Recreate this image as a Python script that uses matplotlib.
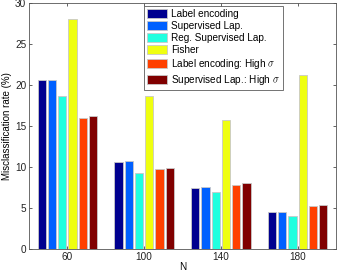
import numpy as np
import matplotlib
matplotlib.use('Agg')
import matplotlib.pyplot as plt

plt.rcParams['font.family'] = ['Liberation Sans', 'DejaVu Sans']
plt.rcParams['mathtext.fontset'] = 'cm'

groups = ["60", "100", "140", "180"]
series = ["Label encoding", "Supervised Lap.", "Reg. Supervised Lap.", "Fisher",
          r"Label encoding: High $\sigma$", r"Supervised Lap.: High $\sigma$"]
label_enc = [20.6, 10.6, 7.5, 4.5]
sup_lap = [20.6, 10.7, 7.6, 4.5]
reg_sup_lap = [18.7, 9.3, 7.0, 4.0]
fisher = [28.0, 18.6, 15.7, 21.2]
label_enc_high = [16.0, 9.8, 7.8, 5.2]
sup_lap_high = [16.2, 9.9, 8.0, 5.4]
values = [label_enc, sup_lap, reg_sup_lap, fisher, label_enc_high, sup_lap_high]
colors = ["#00008F", "#0060FF", "#20FFDF", "#EFFF10", "#FF4000", "#800000"]

fig = plt.figure(figsize=(3.43, 2.73), dpi=100)
ax = fig.add_axes([29 / 343, 24 / 273, 307 / 343, 246 / 273])

x = np.arange(1, len(groups) + 1)
slot = 0.8 / len(series)
for i, (vals, c, lab) in enumerate(zip(values, colors, series)):
    ax.bar(x + (i - 2.5) * slot, vals, width=slot * 0.82, color=c,
           edgecolor="#C8C8C8", linewidth=0.6, label=lab)

ax.set_xlim(0.5, 4.5)
ax.set_ylim(0, 30)
ax.set_xticks(x)
ax.set_xticklabels(groups)
ax.set_yticks(range(0, 31, 5))
ax.tick_params(direction="in", top=True, right=True, labelsize=7.2, length=2.5,
               width=0.5, pad=2, colors="#222222")
for s in ax.spines.values():
    s.set_linewidth(0.6)
    s.set_color("#555555")
ax.set_xlabel("N", fontsize=7.2, labelpad=0)
ax.set_ylabel("Misclassification rate (%)", fontsize=7, labelpad=2)

leg = ax.legend(loc="upper left", bbox_to_anchor=(0.376, 0.988), fontsize=7.2,
                frameon=True, fancybox=False, edgecolor="#333333",
                handlelength=2.0, handleheight=0.9, handletextpad=0.4,
                labelspacing=0.2, borderpad=0.3, borderaxespad=0)
leg.get_frame().set_linewidth(0.6)

fig.savefig("out.png", dpi=100)
